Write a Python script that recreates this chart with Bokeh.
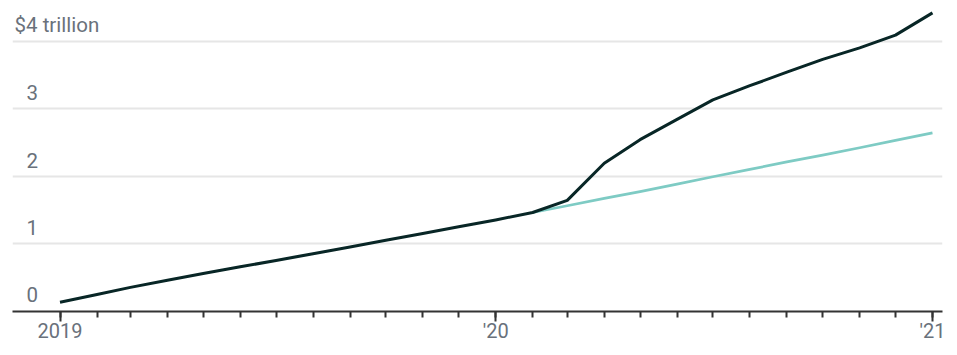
import pandas as pd
from bokeh.plotting import figure
from bokeh.models import Range1d, FixedTicker, CustomJSTickFormatter, Label
from bokeh.embed import file_html
from bokeh.resources import INLINE

# ---- data ----
months = pd.date_range("2019-01-01", "2021-01-01", freq="MS")
actual = [0.13, 0.245, 0.35, 0.455, 0.555, 0.655, 0.75, 0.85, 0.95, 1.05, 1.15, 1.25,
          1.35, 1.46, 1.64, 2.19, 2.54, 2.84, 3.13, 3.34, 3.54, 3.73, 3.90, 4.09, 4.42]
proj_months = pd.date_range("2020-02-01", "2021-01-01", freq="MS")
projected = [1.46, 1.56, 1.67, 1.77, 1.88, 1.99, 2.10, 2.21, 2.31, 2.42, 2.53, 2.64]

x_tick_dates = ["2019-01-01", "2020-01-01", "2021-01-01"]
x_tick_labels = ["2019", "'20", "'21"]
y_ticks = [0, 1, 2, 3, 4]
y_labels = ["0", "1", "2", "3", "$4 trillion"]

FONT = "Roboto"
LABEL_COLOR = "#69717b"

x_start = pd.Timestamp("2019-01-01") - pd.Timedelta(days=39.8)
x_end = pd.Timestamp("2021-01-01") + pd.Timedelta(days=8.4)
PX_PER_UNIT = 67.45

p = figure(width=957, height=355, x_axis_type="datetime", y_axis_location=None,
           x_range=Range1d(x_start, x_end), y_range=Range1d(-0.0074, 4.603),
           output_backend="svg", toolbar_location=None,
           min_border_left=12, min_border_right=15, min_border_top=0, min_border_bottom=44)
p.outline_line_color = None
p.background_fill_color = "white"
p.border_fill_color = "white"

# grid
p.xgrid.grid_line_color = None
p.ygrid.ticker = FixedTicker(ticks=[1, 2, 3, 4])
p.ygrid.grid_line_color = "#e6e6e6"
p.ygrid.grid_line_width = 2

# x axis
to_ms = lambda s: pd.Timestamp(s).value / 1e6
major = [to_ms(s) for s in x_tick_dates]
minor = [to_ms(d) for d in months]
p.xaxis.ticker = FixedTicker(ticks=major, minor_ticks=minor)
p.xaxis.formatter = CustomJSTickFormatter(args=dict(tick_vals=major, tick_labels=x_tick_labels),
    code="const i = tick_vals.indexOf(tick); return i >= 0 ? tick_labels[i] : '';")
p.xaxis.axis_line_color = "#333333"
p.xaxis.axis_line_width = 2
p.xaxis.major_tick_line_color = "#333333"
p.xaxis.major_tick_line_width = 2
p.xaxis.minor_tick_line_color = "#333333"
p.xaxis.minor_tick_line_width = 2
p.xaxis.major_tick_out = 10
p.xaxis.major_tick_in = 0
p.xaxis.minor_tick_out = 6
p.xaxis.minor_tick_in = 0
p.xaxis.major_label_text_font = FONT
p.xaxis.major_label_text_font_size = "20px"
p.xaxis.major_label_text_color = LABEL_COLOR
p.xaxis.major_label_standoff = -3

# lines
p.line(proj_months, projected, line_color="#7ecbc4", line_width=2.7, line_join="round")
p.line(months, actual, line_color="#082626", line_width=3, line_join="round")

# y labels inside plot, sitting above each gridline
for v, t in zip(y_ticks, y_labels):
    off = 2 if t.startswith("$") else 14
    p.add_layout(Label(x=x_start, y=v + 16 / PX_PER_UNIT, text=t, x_offset=off,
                       text_font=FONT, text_font_size="20.5px", text_color=LABEL_COLOR,
                       text_align="left", text_baseline="alphabetic"))

open("out.html", "w").write(file_html(p, INLINE))
